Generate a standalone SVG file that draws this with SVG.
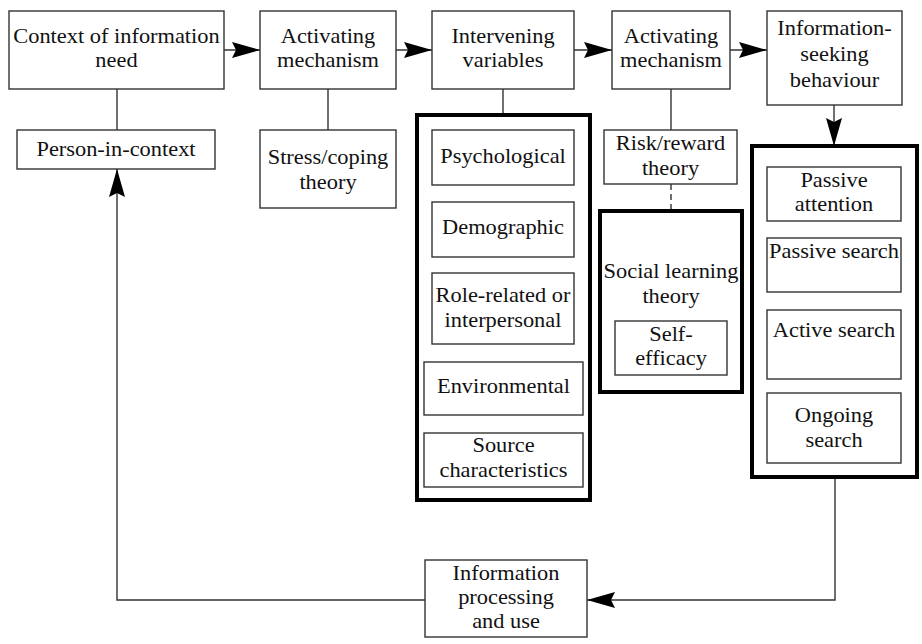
<svg xmlns="http://www.w3.org/2000/svg" width="922" height="644" viewBox="0 0 922 644">
<defs>
<marker id="ah" viewBox="0 0 28 16" refX="28" refY="8" markerWidth="28" markerHeight="16" markerUnits="userSpaceOnUse" orient="auto">
<path d="M0,0 L28,8 L0,16 L4,8 Z" fill="#000"/>
</marker>
</defs>
<style>
.b{fill:#fff;stroke:#333;stroke-width:1.4}
.t{fill:none;stroke:#000;stroke-width:4}
.l{fill:none;stroke:#333;stroke-width:1.4}
text{font-family:'Liberation Serif','Times New Roman',serif;font-size:20px;fill:#111;text-anchor:middle}
</style>
<rect width="922" height="644" fill="#fff"/>
<g id="connectors">
<line class="l" x1="224" y1="50" x2="260" y2="50" marker-end="url(#ah)"/>
<line class="l" x1="396" y1="50" x2="432" y2="50" marker-end="url(#ah)"/>
<line class="l" x1="574" y1="50" x2="612" y2="50" marker-end="url(#ah)"/>
<line class="l" x1="730" y1="50" x2="767" y2="50" marker-end="url(#ah)"/>
<line class="l" x1="117" y1="89" x2="117" y2="130"/>
<line class="l" x1="328" y1="89" x2="328" y2="130"/>
<line class="l" x1="503" y1="89" x2="503" y2="115"/>
<line class="l" x1="671" y1="89" x2="671" y2="130"/>
<line class="l" x1="671" y1="184" x2="671" y2="211" stroke-dasharray="6,4"/>
<line class="l" x1="834" y1="105" x2="834" y2="146" marker-end="url(#ah)"/>
<polyline class="l" points="835,478 835,600 587,600" marker-end="url(#ah)"/>
<polyline class="l" points="425,600 117,600 117,169" marker-end="url(#ah)"/>
</g>
<g id="context"><rect class="b" x="9" y="11" width="215" height="78"/><text transform="translate(116.5 43) scale(1.12 1)">Context of information</text><text transform="translate(116.5 67) scale(1.12 1)">need</text></g>
<g id="activating1"><rect class="b" x="260" y="11" width="136" height="78"/><text transform="translate(328 43) scale(1.12 1)">Activating</text><text transform="translate(328 67) scale(1.12 1)">mechanism</text></g>
<g id="intervening"><rect class="b" x="432" y="11" width="142" height="78"/><text transform="translate(503 43) scale(1.12 1)">Intervening</text><text transform="translate(503 67) scale(1.12 1)">variables</text></g>
<g id="activating2"><rect class="b" x="612" y="11" width="118" height="78"/><text transform="translate(671 43) scale(1.12 1)">Activating</text><text transform="translate(671 67) scale(1.12 1)">mechanism</text></g>
<g id="seeking"><rect class="b" x="767" y="11" width="135" height="94"/><text transform="translate(834.5 35) scale(1.12 1)">Information-</text><text transform="translate(834.5 61) scale(1.12 1)">seeking</text><text transform="translate(834.5 87) scale(1.12 1)">behaviour</text></g>
<g id="person"><rect class="b" x="17" y="130" width="198" height="39"/><text transform="translate(116 156) scale(1.12 1)">Person-in-context</text></g>
<g id="stress"><rect class="b" x="260" y="130" width="136" height="78"/><text transform="translate(328 164) scale(1.12 1)">Stress/coping</text><text transform="translate(328 189) scale(1.12 1)">theory</text></g>
<g id="variables-group"><rect class="t" x="417" y="115" width="173" height="385"/></g>
<g id="psychological"><rect class="b" x="432" y="130" width="142" height="55"/><text transform="translate(503 163) scale(1.12 1)">Psychological</text></g>
<g id="demographic"><rect class="b" x="432" y="202" width="142" height="55"/><text transform="translate(503 234) scale(1.12 1)">Demographic</text></g>
<g id="role"><rect class="b" x="432" y="273" width="142" height="71"/><text transform="translate(503 302) scale(1.12 1)">Role-related or</text><text transform="translate(503 327) scale(1.12 1)">interpersonal</text></g>
<g id="environmental"><rect class="b" x="424" y="362" width="159" height="53"/><text transform="translate(503.5 393) scale(1.12 1)">Environmental</text></g>
<g id="source"><rect class="b" x="424" y="433" width="159" height="54"/><text transform="translate(503.5 452) scale(1.12 1)">Source</text><text transform="translate(503.5 477) scale(1.12 1)">characteristics</text></g>
<g id="risk"><rect class="b" x="604" y="130" width="133" height="54"/><text transform="translate(670.5 150) scale(1.12 1)">Risk/reward</text><text transform="translate(670.5 175) scale(1.12 1)">theory</text></g>
<g id="social"><rect class="t" x="600" y="211" width="142" height="181"/><text transform="translate(671 278) scale(1.12 1)">Social learning</text><text transform="translate(671 303) scale(1.12 1)">theory</text></g>
<g id="selfefficacy"><rect class="b" x="615" y="321" width="112" height="54"/><text transform="translate(671 341) scale(1.12 1)">Self-</text><text transform="translate(671 365) scale(1.12 1)">efficacy</text></g>
<g id="behaviour-group"><rect class="t" x="752" y="146" width="165" height="331"/></g>
<g id="passive-attention"><rect class="b" x="767" y="167" width="134" height="54"/><text transform="translate(834 187) scale(1.12 1)">Passive</text><text transform="translate(834 211) scale(1.12 1)">attention</text></g>
<g id="passive-search"><rect class="b" x="767" y="238" width="134" height="54"/><text transform="translate(834 258) scale(1.12 1)">Passive search</text></g>
<g id="active-search"><rect class="b" x="767" y="310" width="134" height="69"/><text transform="translate(834 337) scale(1.12 1)">Active search</text></g>
<g id="ongoing-search"><rect class="b" x="767" y="393" width="134" height="70"/><text transform="translate(834 422) scale(1.12 1)">Ongoing</text><text transform="translate(834 447) scale(1.12 1)">search</text></g>
<g id="processing"><rect class="b" x="425" y="560" width="162" height="77"/><text transform="translate(506 580) scale(1.12 1)">Information</text><text transform="translate(506 604) scale(1.12 1)">processing</text><text transform="translate(506 628) scale(1.12 1)">and use</text></g>
</svg>
